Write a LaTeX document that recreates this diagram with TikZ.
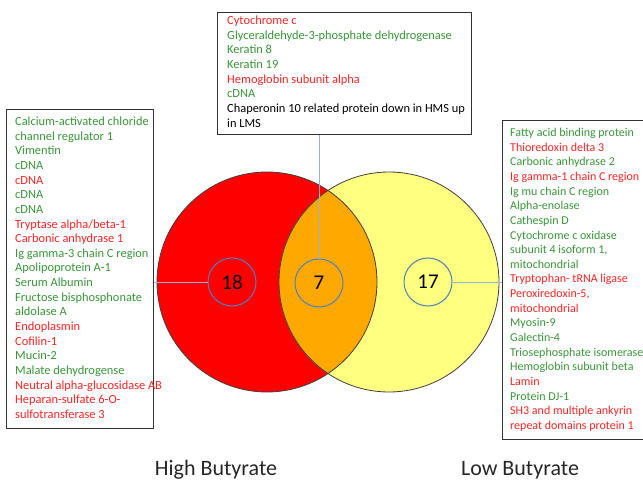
\documentclass[tikz,border=0pt]{standalone}
\usepackage{fontspec}
\setmainfont{Carlito}
\definecolor{tgreen}{RGB}{56,150,56}
\definecolor{tred}{RGB}{255,35,35}
\definecolor{vred}{RGB}{255,0,0}
\definecolor{vyellow}{RGB}{255,255,128}
\definecolor{vorange}{RGB}{255,168,0}
\definecolor{ringblue}{RGB}{79,129,189}
\definecolor{linkblue}{RGB}{150,178,222}
\definecolor{boxline}{RGB}{50,50,50}
\tikzset{
  listbox/.style={draw=boxline, line width=1bp, rectangle, inner sep=0pt},
  listtext/.style={anchor=north west, inner sep=0pt, align=left,
    font=\fontsize{12.4bp}{14.65bp}\selectfont},
  ring/.style={circle, draw=ringblue, line width=1bp, minimum size=48bp, inner sep=0pt,
    font=\fontsize{21bp}{24bp}\selectfont},
  link/.style={draw=linkblue, line width=0.9bp},
  biglabel/.style={font=\fontsize{22bp}{26bp}\selectfont, text=black!85},
}
\newcommand{\g}[1]{\textcolor{tgreen}{#1}}
\newcommand{\rr}[1]{\textcolor{tred}{#1}}
\begin{document}
\begin{tikzpicture}[x=1bp,y=-1bp]
\useasboundingbox (0,0) rectangle (643,484);
\clip (0,0) rectangle (643,484);
% Venn circles
\fill[vred] (267,282) circle (110);
\fill[vyellow] (389,282) circle (110);
\begin{scope}
  \clip (267,282) circle (110);
  \fill[vorange] (389,282) circle (110);
\end{scope}
\draw[black!75, line width=0.8bp] (267,282) circle (110);
\draw[black!75, line width=0.8bp] (389,282) circle (110);
% count rings
\node[ring] (c18) at (232,282) {18};
\node[ring] (c7) at (319,283) {7};
\node[ring] (c17) at (428,282) {17};
% boxes
\node[listbox, minimum width=146bp, minimum height=318bp] (L) at (80,269) {};
\node[listbox, minimum width=254bp, minimum height=122bp] (T) at (344,74) {};
\node[listbox, minimum width=158bp, minimum height=318bp] (R) at (581,280) {};
% texts
\node[listtext] (Ltext) at (15,115) {\strut\g{Calcium-activated chloride}\\
\g{channel regulator 1}\\
\g{Vimentin}\\
\g{cDNA}\\
\rr{cDNA}\\
\g{cDNA}\\
\g{cDNA}\\
\rr{Tryptase alpha/beta-1}\\
\rr{Carbonic anhydrase 1}\\
\g{Ig gamma-3 chain C region}\\
\g{Apolipoprotein A-1}\\
\g{Serum Albumin}\\
\g{Fructose bisphosphonate}\\
\g{aldolase A}\\
\rr{Endoplasmin}\\
\rr{Cofilin-1}\\
\g{Mucin-2}\\
\g{Malate dehydrogense}\\
\rr{Neutral alpha-glucosidase AB}\\
\rr{Heparan-sulfate 6-O-}\\
\rr{sulfotransferase 3}};
\node[listtext] (Ttext) at (227,14) {\strut\rr{Cytochrome c}\\
\g{Glyceraldehyde-3-phosphate dehydrogenase}\\
\g{Keratin 8}\\
\g{Keratin 19}\\
\rr{Hemoglobin subunit alpha}\\
\g{cDNA}\\
Chaperonin 10 related protein down in HMS up\\
in LMS};
\node[listtext, font=\fontsize{12bp}{14.65bp}\selectfont] (Rtext) at (510,126) {\strut\g{Fatty acid binding protein}\\
\rr{Thioredoxin delta 3}\\
\g{Carbonic anhydrase 2}\\
\rr{Ig gamma-1 chain C region}\\
\g{Ig mu chain C region}\\
\g{Alpha-enolase}\\
\g{Cathespin D}\\
\g{Cytochrome c oxidase}\\
\g{subunit 4 isoform 1,}\\
\g{mitochondrial}\\
\rr{Tryptophan- tRNA ligase}\\
\rr{Peroxiredoxin-5,}\\
\rr{mitochondrial}\\
\g{Myosin-9}\\
\g{Galectin-4}\\
\g{Triosephosphate isomerase}\\
\g{Hemoglobin subunit beta}\\
\rr{Lamin}\\
\g{Protein DJ-1}\\
\rr{SH3 and multiple ankyrin}\\
\rr{repeat domains protein 1}};
% connectors
\draw[link] (L.east |- c18.west) -- (c18.west);
\draw[link] (c7.north) -- (c7.north |- T.south);
\draw[link] (c17.east) -- (c17.east -| R.west);
% labels
\node[biglabel] (hb) at (216,470) {High Butyrate};
\node[biglabel] (lb) at (520,470) {Low Butyrate};
\end{tikzpicture}
\end{document}
